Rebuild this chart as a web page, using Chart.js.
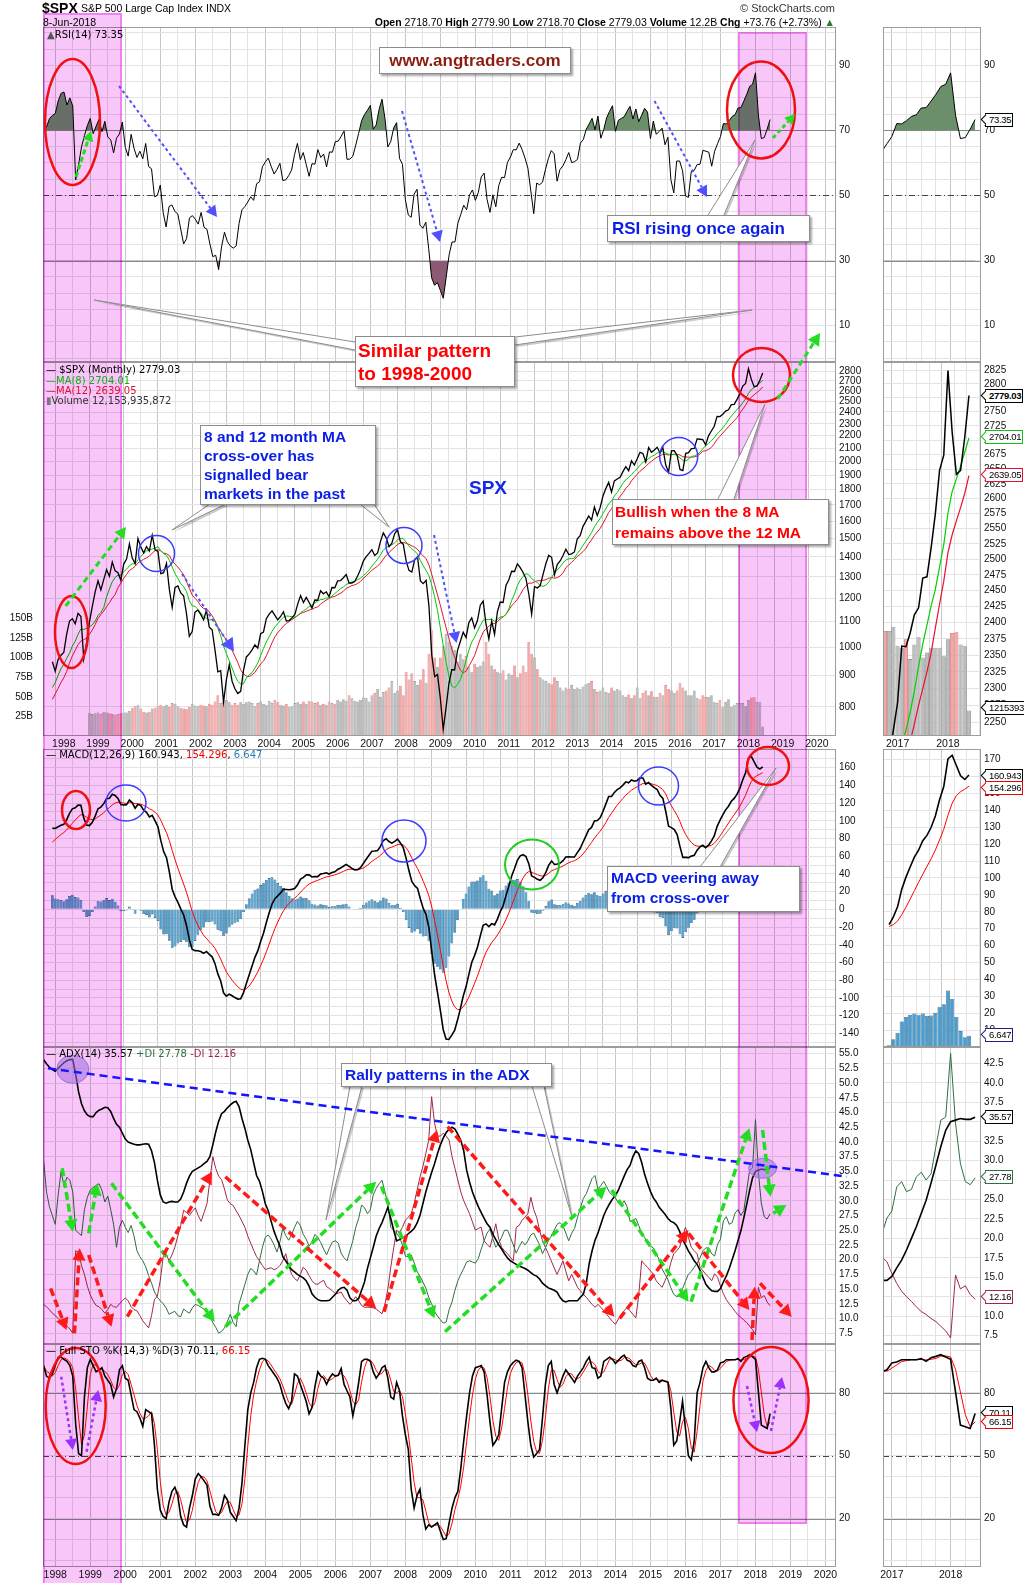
<!DOCTYPE html>
<html lang="en">
<head>
<meta charset="UTF-8">
<title>$SPX monthly with RSI, MACD, ADX and Full STO</title>
<script src="https://cdn.jsdelivr.net/npm/chart.js"></script>
<style>
  html, body { margin: 0; padding: 0; background: #fff; }
  #page { position: relative; width: 1024px; height: 1583px; overflow: hidden; font-family: "Liberation Sans", Arial, sans-serif; }
  #page canvas { position: absolute; z-index: 1; }
  #page #overlay { z-index: 3; pointer-events: none; }
  .pink { position: absolute; z-index: 2; box-sizing: border-box; background: #f8c6f8; border: 2px solid #ee82ee; mix-blend-mode: multiply; }
  .txt { position: absolute; z-index: 4; white-space: nowrap; color: #000; line-height: 1; }
  .lg { font-family: "DejaVu Sans", Verdana, sans-serif; font-size: 10px; }
  .note { position: absolute; z-index: 5; background: #fff; border: 1px solid #8c8c8c; box-shadow: 2px 2px 2px rgba(0,0,0,0.35);
          font-weight: bold; box-sizing: border-box; white-space: nowrap; font-family: "Liberation Sans", Arial, sans-serif; }
  .tag { position: absolute; z-index: 5; left: 985px; height: 12px; line-height: 12px; font-size: 9.5px; padding: 0 1px 0 3px;
         background: #fff; border: 1px solid #000; letter-spacing: -0.3px; }
  .tag::before { content: ''; position: absolute; left: -4px; top: 2px; width: 6px; height: 6px; transform: rotate(45deg);
                 border-left: 1px solid; border-bottom: 1px solid; border-color: inherit; background: #fff; z-index: -1; }
</style>
</head>
<body>
<div id="page">
  <!-- header -->
  <div class="txt" style="left:42px;top:1px;font-size:14px;font-weight:bold">$SPX</div>
  <div class="txt" style="left:81px;top:3px;font-size:10.5px">S&amp;P 500 Large Cap Index</div>
  <div class="txt" style="left:206px;top:3px;font-size:10.5px">INDX</div>
  <div class="txt" style="left:43px;top:17px;font-size:10.5px">8-Jun-2018</div>
  <div class="txt" style="right:189px;top:3px;font-size:11px;color:#333">&#169; StockCharts.com</div>
  <div class="txt" style="right:189px;top:17px;font-size:10.5px"><b>Open</b> 2718.70 <b>High</b> 2779.90 <b>Low</b> 2718.70 <b>Close</b> 2779.03 <b>Volume</b> 12.2B <b>Chg</b> +73.76 (+2.73%) <span style="color:#2a7a2a">&#9650;</span></div>

  <!-- panel legends -->
  <div class="txt lg" style="left:47px;top:30px"><span style="color:#555">&#9650;</span>RSI(14) 73.35</div>
  <div class="txt lg" style="left:46px;top:365px">&#8212; $SPX (Monthly) 2779.03</div>
  <div class="txt lg" style="left:46px;top:376px;color:#10b010">&#8212;MA(8) 2704.01</div>
  <div class="txt lg" style="left:46px;top:386px;color:#e0102e">&#8212;MA(12) 2639.05</div>
  <div class="txt lg" style="left:46px;top:396px;color:#333"><span style="color:#777">&#9646;</span>Volume 12,153,935,872</div>
  <div class="txt lg" style="left:46px;top:750px">&#8212; MACD(12,26,9) 160.943, <span style="color:#e00">154.296</span>, <span style="color:#2a7fb8">6.647</span></div>
  <div class="txt lg" style="left:46px;top:1049px">&#8212; ADX(14) 35.57 <span style="color:#2f6f3f">+DI 27.78</span> <span style="color:#a02848">-DI 12.16</span></div>
  <div class="txt lg" style="left:46px;top:1346px">&#8212; Full STO %K(14,3) %D(3) 70.11, <span style="color:#e00">66.15</span></div>

  <!-- value tags of the zoomed panels -->
  <div class="tag" style="top:113px">73.35</div>
  <div class="tag" style="top:389px;font-weight:bold">2779.03</div>
  <div class="tag" style="top:430px;border-color:#10c010">2704.01</div>
  <div class="tag" style="top:468px;border-color:#e0102e">2639.05</div>
  <div class="tag" style="top:701px">1215393</div>
  <div class="tag" style="top:769px">160.943</div>
  <div class="tag" style="top:781px;border-color:#e00">154.296</div>
  <div class="tag" style="top:1028px;border-color:#202080">6.647</div>
  <div class="tag" style="top:1110px">35.57</div>
  <div class="tag" style="top:1170px;border-color:#2f6f3f">27.78</div>
  <div class="tag" style="top:1290px;border-color:#a02848">12.16</div>
  <div class="tag" style="top:1406px">70.11</div>
  <div class="tag" style="top:1415px;border-color:#e00">66.15</div>

  <!-- highlighted periods -->
  <div class="pink" style="left:43px;top:13px;width:79px;height:1572px"></div>
  <div class="pink" style="left:738px;top:32px;width:69px;height:1492px"></div>

  <!-- notes -->
  <div class="note" style="left:379px;top:47px;width:192px;height:27px;line-height:25px;text-align:center;font-size:17px;color:#8b1e10">www.angtraders.com</div>
  <div class="note" style="left:607px;top:215px;width:203px;height:27px;line-height:25px;padding-left:4px;font-size:17px;color:#0a1ee6">RSI rising once again</div>
  <div class="note" style="left:355px;top:336px;width:160px;height:51px;padding:2px 0 0 2px;line-height:23px;font-size:19px;color:#f00">Similar pattern<br>to 1998-2000</div>
  <div class="note" style="left:200px;top:425px;width:176px;height:80px;padding:1px 0 0 3px;line-height:19px;font-size:15.5px;color:#0a1ee6">8 and 12 month MA<br>cross-over has<br>signalled bear<br>markets in the past</div>
  <div class="txt" style="left:469px;top:478px;font-size:19px;font-weight:bold;color:#1428e6">SPX</div>
  <div class="note" style="left:612px;top:499px;width:217px;height:46px;padding:1px 0 0 2px;line-height:21px;font-size:15.5px;color:#f00">Bullish when the 8 MA<br>remains above the 12 MA</div>
  <div class="note" style="left:607px;top:866px;width:193px;height:46px;padding:1px 0 0 3px;line-height:20px;font-size:15.5px;color:#0a1ee6">MACD veering away<br>from cross-over</div>
  <div class="note" style="left:341px;top:1063px;width:211px;height:24px;line-height:22px;padding-left:3px;font-size:15.5px;color:#0a1ee6">Rally patterns in the ADX</div>

  <canvas id="overlay" width="1024" height="1583" style="left:0;top:0;width:1024px;height:1583px"></canvas>
</div>

<script>
// ---------------- data (monthly, first value = Sep 1997, last = Jun 2018) ----------------
const closeSPX = [
  947, 914, 955, 970,
  980, 1049, 1102, 1112, 1091, 1134, 1121, 957, 1017, 1099, 1164, 1229,
  1280, 1238, 1286, 1335, 1302, 1373, 1329, 1320, 1283, 1363, 1389, 1469,
  1394, 1366, 1499, 1452, 1421, 1455, 1431, 1518, 1437, 1429, 1315, 1320,
  1366, 1240, 1160, 1249, 1256, 1224, 1211, 1134, 1041, 1060, 1139, 1148,
  1130, 1107, 1147, 1077, 1067, 990, 912, 916, 815, 886, 936, 880,
  856, 841, 848, 917, 964, 975, 990, 1008, 996, 1051, 1058, 1112,
  1131, 1145, 1126, 1107, 1121, 1141, 1102, 1104, 1115, 1130, 1174, 1212,
  1181, 1204, 1181, 1157, 1192, 1191, 1234, 1220, 1229, 1207, 1249, 1248,
  1280, 1281, 1295, 1311, 1270, 1270, 1277, 1304, 1336, 1378, 1401, 1418,
  1438, 1407, 1421, 1482, 1531, 1503, 1455, 1474, 1527, 1549, 1481, 1468,
  1379, 1331, 1323, 1386, 1400, 1280, 1267, 1283, 1166, 969, 896, 903,
  826, 735, 798, 873, 919, 919, 987, 1021, 1057, 1036, 1096, 1115,
  1074, 1104, 1169, 1187, 1089, 1031, 1102, 1049, 1141, 1183, 1181, 1258,
  1286, 1327, 1326, 1364, 1345, 1321, 1292, 1219, 1131, 1253, 1247, 1258,
  1312, 1366, 1408, 1398, 1310, 1362, 1379, 1407, 1441, 1412, 1416, 1426,
  1498, 1515, 1569, 1598, 1631, 1606, 1686, 1633, 1682, 1757, 1806, 1848,
  1783, 1859, 1872, 1884, 1924, 1960, 1931, 2003, 1972, 2018, 2068, 2059,
  1995, 2105, 2068, 2086, 2107, 2063, 2104, 1972, 1920, 2079, 2080, 2044,
  1940, 1932, 2060, 2065, 2097, 2099, 2174, 2171, 2168, 2126, 2199, 2239,
  2279, 2364, 2363, 2384, 2412, 2423, 2470, 2472, 2519, 2575, 2648, 2674,
  2824, 2714, 2641, 2648, 2705, 2779.03
];
const ma8 = [
  860, 876, 900, 922,
  938, 959, 977, 1004, 1022, 1049, 1070, 1068, 1073, 1079, 1087, 1102,
  1125, 1138, 1159, 1206, 1242, 1276, 1297, 1308, 1308, 1324, 1337, 1354,
  1365, 1364, 1385, 1402, 1419, 1431, 1436, 1442, 1447, 1455, 1432, 1416,
  1409, 1382, 1348, 1315, 1292, 1266, 1253, 1230, 1189, 1167, 1164, 1152,
  1136, 1121, 1113, 1106, 1109, 1101, 1072, 1043, 1004, 976, 950, 925,
  899, 880, 872, 872, 891, 902, 909, 925, 942, 969, 995, 1019,
  1040, 1061, 1078, 1091, 1106, 1118, 1123, 1122, 1120, 1118, 1124, 1137,
  1145, 1153, 1163, 1169, 1179, 1187, 1194, 1195, 1201, 1201, 1210, 1221,
  1232, 1244, 1251, 1263, 1268, 1276, 1279, 1286, 1293, 1305, 1318, 1332,
  1353, 1370, 1388, 1410, 1435, 1450, 1457, 1464, 1475, 1493, 1500, 1499,
  1480, 1458, 1442, 1431, 1415, 1381, 1354, 1331, 1305, 1259, 1206, 1146,
  1074, 1006, 947, 896, 865, 859, 870, 885, 914, 951, 989, 1019,
  1038, 1061, 1084, 1105, 1109, 1108, 1109, 1101, 1109, 1119, 1120, 1129,
  1154, 1191, 1219, 1258, 1284, 1301, 1315, 1310, 1291, 1281, 1272, 1258,
  1254, 1260, 1274, 1297, 1319, 1333, 1349, 1368, 1384, 1390, 1391, 1394,
  1418, 1437, 1461, 1484, 1508, 1532, 1566, 1592, 1615, 1645, 1675, 1706,
  1725, 1757, 1780, 1811, 1842, 1867, 1883, 1902, 1926, 1946, 1970, 1992,
  2001, 2019, 2036, 2046, 2063, 2069, 2073, 2063, 2053, 2050, 2051, 2046,
  2025, 2009, 2003, 2015, 2037, 2040, 2051, 2067, 2096, 2120, 2137, 2159,
  2182, 2215, 2239, 2265, 2296, 2333, 2367, 2396, 2426, 2452, 2488, 2524,
  2576, 2612, 2633, 2655, 2679, 2704.01
];
const ma12 = [
  823, 840, 857, 876,
  892, 913, 942, 968, 988, 1009, 1023, 1028, 1034, 1049, 1066, 1088,
  1113, 1129, 1144, 1163, 1180, 1200, 1217, 1248, 1270, 1292, 1311, 1331,
  1340, 1351, 1369, 1378, 1388, 1395, 1404, 1420, 1433, 1438, 1432, 1420,
  1417, 1407, 1379, 1362, 1348, 1329, 1310, 1278, 1245, 1215, 1200, 1186,
  1166, 1155, 1154, 1140, 1124, 1104, 1079, 1061, 1042, 1028, 1011, 989,
  966, 944, 919, 905, 897, 896, 902, 910, 925, 939, 949, 968,
  991, 1016, 1039, 1055, 1068, 1082, 1092, 1100, 1109, 1116, 1126, 1134,
  1138, 1143, 1148, 1152, 1158, 1162, 1173, 1183, 1192, 1199, 1205, 1208,
  1216, 1222, 1232, 1245, 1251, 1258, 1261, 1268, 1277, 1292, 1304, 1318,
  1332, 1342, 1353, 1367, 1389, 1408, 1423, 1437, 1453, 1467, 1474, 1478,
  1473, 1467, 1459, 1451, 1440, 1421, 1405, 1390, 1359, 1311, 1262, 1215,
  1169, 1120, 1076, 1033, 993, 963, 940, 918, 909, 914, 931, 949,
  969, 1000, 1031, 1057, 1071, 1081, 1090, 1092, 1099, 1112, 1119, 1131,
  1148, 1167, 1180, 1195, 1216, 1240, 1256, 1270, 1269, 1275, 1281, 1281,
  1283, 1286, 1293, 1296, 1293, 1296, 1304, 1319, 1345, 1358, 1372, 1386,
  1402, 1414, 1428, 1444, 1471, 1492, 1517, 1536, 1556, 1585, 1617, 1652,
  1676, 1705, 1730, 1754, 1778, 1808, 1828, 1859, 1883, 1905, 1927, 1944,
  1962, 1983, 1999, 2016, 2031, 2040, 2054, 2051, 2047, 2052, 2053, 2052,
  2047, 2033, 2032, 2031, 2030, 2033, 2039, 2055, 2076, 2080, 2090, 2106,
  2134, 2170, 2195, 2222, 2248, 2275, 2300, 2325, 2354, 2392, 2429, 2465,
  2511, 2540, 2563, 2585, 2609, 2639.05
];
// monthly volume in billions of shares (no volume before Oct 1998)
const volumeB = [
  null, null, null, null,
  null, null, null, null, null, null, null, null, null, 29, 28, 29,
  30, 28, 31, 30, 29, 28, 27, 28, 29, 30, 30, 32,
  36, 38, 40, 35, 31, 30, 31, 35, 36, 38, 40, 38,
  40, 37, 42, 41, 38, 36, 35, 34, 37, 41, 39, 38,
  40, 39, 38, 41, 40, 44, 52, 42, 45, 46, 43, 40,
  42, 40, 43, 41, 43, 44, 42, 38, 42, 44, 41, 40,
  45, 42, 46, 43, 40, 39, 41, 37, 38, 42, 43, 41,
  44, 41, 45, 44, 42, 43, 40, 41, 40, 44, 42, 41,
  46, 44, 47, 45, 52, 48, 45, 44, 46, 49, 48, 44,
  52, 55, 60, 50, 56, 58, 62, 70, 55, 58, 64, 52,
  82, 72, 80, 70, 65, 72, 85, 68, 105, 135, 100, 88,
  100, 115, 130, 120, 115, 110, 95, 105, 98, 102, 88, 82,
  92, 88, 90, 95, 120, 105, 90, 85, 82, 80, 84, 72,
  80, 78, 90, 75, 80, 90, 82, 120, 105, 100, 85, 75,
  72, 70, 68, 66, 75, 70, 62, 58, 62, 60, 65, 60,
  62, 60, 63, 66, 68, 70, 60, 56, 58, 62, 56, 55,
  62, 58, 60, 58, 52, 50, 53, 48, 52, 62, 48, 55,
  58, 52, 57, 50, 50, 55, 52, 65, 60, 58, 55, 58,
  68, 62, 58, 52, 52, 58, 48, 47, 52, 50, 50, 52,
  43, 42, 46, 36.6, 43.6, 47, 37.4, 39.7, 42, 42, 42, 38,
  46, 49, 49.4, 43.6, 43, 12.15
];
const rsi14 = [
  70.5, 71, 73.6, 74.6,
  75.2, 79, 81.4, 81.8, 77.8, 80, 77.5, 54.8, 59.5, 64.9, 68.4, 71.5,
  73.7, 69, 71.3, 73.4, 69.6, 72.8, 68, 67.1, 63.1, 67.6, 68.9, 72.6,
  64.8, 62.1, 68.8, 64.5, 61.7, 63.6, 61.3, 66, 58.9, 58.2, 49.6, 50,
  53.2, 44.7, 40.3, 46.6, 47.1, 45.1, 44.3, 39.7, 35.1, 36.7, 43.1, 43.8,
  42.7, 41.2, 44.8, 40.2, 39.6, 35.1, 31.2, 31.6, 27.2, 34.2, 38.7, 35.8,
  34.5, 33.8, 34.5, 41.4, 45.6, 46.6, 48, 49.6, 48.5, 53.6, 54.2, 58.8,
  60.3, 61.5, 59, 56.6, 58, 59.9, 54.6, 54.8, 56.1, 57.8, 62.5, 66,
  61, 63.2, 59.6, 55.9, 59.8, 59.6, 64.1, 61.7, 62.7, 58.8, 63.4, 63.3,
  66.6, 66.7, 68.2, 69.8, 61.1, 61.2, 62.1, 65.5, 69.1, 73, 74.9, 76.2,
  77.7, 70.4, 71.7, 76.5, 79.6, 73.7, 64.9, 66.6, 70.8, 72.4, 61.4, 59.6,
  48.7, 44, 43.3, 50.4, 51.9, 40.9, 39.9, 41.8, 33.6, 24.7, 22.4, 23.2,
  20.8, 18.4, 24.9, 31.8, 35.7, 35.7, 41.5, 44.2, 47, 45.6, 50.2, 51.7,
  48.5, 50.9, 55.7, 56.9, 48.8, 44.8, 50.2, 46.5, 53, 55.6, 55.5, 60.2,
  61.8, 64.1, 64, 66.1, 64.1, 61.5, 58.4, 51.4, 44.4, 53.8, 53.3, 54.1,
  57.9, 61.3, 63.8, 62.8, 54.4, 58, 59.1, 61, 63.2, 60.1, 60.4, 61.1,
  66.1, 67.2, 70.4, 72, 73.7, 70.2, 74.4, 67.6, 70.3, 73.9, 75.9, 77.6,
  69.7, 73.1, 73.7, 74.2, 75.9, 77.4, 73.5, 76.6, 72.7, 74.7, 76.8, 75.6,
  67.5, 72.9, 68.8, 69.7, 70.7, 65.6, 67.9, 54.9, 50.8, 60.6, 60.6, 57.6,
  49.9, 49.4, 57.4, 57.7, 59.5, 59.6, 63.9, 63.6, 63.3, 59, 63.6, 65.9,
  68.1, 72.1, 72, 73, 74.3, 74.8, 76.9, 77, 79, 81.1, 83.5, 84.2,
  87.7, 74.7, 67.5, 67.8, 70.4, 73.35
];
const macdLine = [
  91.7, 91.3, 93.2, 94.9,
  95.9, 101.1, 108.3, 113.5, 114.6, 117.6, 117.5, 103, 95.2, 94.6, 98.3, 105.2,
  113.5, 115.4, 119.3, 125, 125.4, 129.9, 128.5, 125.2, 118.2, 117.8, 118.2, 123.5,
  120.3, 114.2, 118.7, 117.1, 112, 109.5, 104.4, 106.2, 99.9, 93.2, 77.8, 65.2,
  58.3, 42.2, 22.7, 14.2, 7.9, 0.5, -6.4, -17.9, -34.2, -45, -46.6, -46.7,
  -47.7, -49.7, -47.5, -50.8, -53.6, -61.3, -72.9, -80.9, -94.2, -98, -95.8, -97.5,
  -99.6, -101.3, -101, -94, -83.7, -73.8, -64, -54.2, -46.9, -36.2, -26.9, -14.9,
  -3.9, 5.9, 12, 15.2, 18.6, 22.6, 22.4, 22.1, 22.5, 23.8, 28.1, 34.1,
  36, 38.9, 38.9, 36.5, 37, 36.9, 39.8, 40.5, 41.3, 39.8, 41.5, 42.3,
  45, 46.7, 48.6, 50.7, 48.5, 46.2, 44.5, 44.8, 47.1, 51.7, 56.5, 61,
  65.5, 65.8, 66.4, 71, 77.7, 79.7, 76.6, 74.8, 76.8, 79.3, 74.9, 69.6,
  57.5, 43.5, 31.4, 26.7, 23.7, 11.6, 1, -6.1, -20.9, -47.9, -74.4, -93.8,
  -114, -135.8, -146.3, -146.9, -142, -136.6, -125.3, -112.4, -98.1, -87.5, -73.4, -60,
  -52.1, -42.9, -30, -18.1, -16.4, -19.5, -16.1, -17.5, -11, -2.5, 4, 15.3,
  26.2, 37.7, 46.2, 55.4, 60.4, 61.7, 59.7, 51.6, 37.7, 36.1, 33.9, 32.8,
  35.8, 42.1, 49.9, 54.6, 50.7, 51.2, 52.3, 54.9, 59, 59.2, 59, 59,
  64, 68.6, 75.7, 82.7, 89.9, 92.5, 99.8, 100.2, 103.3, 110.5, 118.8, 127.3,
  127.4, 132, 135.2, 137.1, 140.2, 143.9, 142.8, 146.1, 144.6, 145.4, 148.4, 148.3,
  141.4, 143.1, 139.9, 137.3, 135.3, 128.7, 125.3, 110.7, 93.9, 92.3, 90.1, 84.5,
  70.8, 58.7, 58.7, 58.4, 60.1, 60.9, 66.8, 70.5, 72.3, 69.5, 72.4, 77,
  82.9, 93.4, 100.5, 106.5, 112.3, 116.4, 122, 125.2, 130, 136.7, 146.3, 154.1,
  170.5, 172.6, 166.5, 160.4, 158.3, 160.943
];
const macdSignal = [
  75.9, 79, 81.8, 84.4,
  86.7, 89.6, 93.3, 97.3, 100.8, 104.2, 106.9, 106.1, 103.9, 102, 101.3, 102.1,
  104.4, 106.6, 109.1, 112.3, 114.9, 117.9, 120, 121, 120.4, 119.9, 119.6, 120.4,
  120.4, 119.2, 119.1, 118.7, 117.4, 115.8, 113.5, 112, 109.6, 106.3, 100.6, 93.5,
  86.5, 77.6, 66.6, 56.1, 46.5, 37.3, 28.6, 19.3, 8.6, -2.1, -11, -18.1,
  -24, -29.2, -32.8, -36.4, -39.8, -44.1, -49.9, -56.1, -63.7, -70.6, -75.6, -80,
  -83.9, -87.4, -90.1, -90.9, -89.5, -86.4, -81.9, -76.4, -70.5, -63.6, -56.3, -48,
  -39.2, -30.2, -21.8, -14.4, -7.8, -1.7, 3.1, 6.9, 10, 12.8, 15.9, 19.5,
  22.8, 26, 28.6, 30.2, 31.6, 32.7, 34.1, 35.4, 36.6, 37.2, 38.1, 38.9,
  40.1, 41.4, 42.8, 44.4, 45.2, 45.4, 45.2, 45.1, 45.5, 46.7, 48.7, 51.2,
  54.1, 56.4, 58.4, 60.9, 64.3, 67.4, 69.2, 70.3, 71.6, 73.1, 73.5, 72.7,
  69.7, 64.5, 57.9, 51.7, 46.1, 39.2, 31.6, 24.1, 15.1, 2.5, -12.9, -29.1,
  -46.1, -64.1, -80.5, -93.8, -103.4, -110.1, -113.1, -113, -110, -105.5, -99.1, -91.3,
  -83.5, -75.4, -66.3, -56.7, -48.6, -42.8, -37.5, -33.5, -29, -23.7, -18.2, -11.5,
  -4, 4.3, 12.7, 21.2, 29, 35.5, 40.3, 42.6, 41.6, 40.5, 39.2, 37.9,
  37.5, 38.4, 40.7, 43.5, 44.9, 46.2, 47.4, 48.9, 50.9, 52.6, 53.9, 54.9,
  56.7, 59.1, 62.4, 66.5, 71.2, 75.5, 80.4, 84.4, 88.2, 92.7, 97.9, 103.8,
  108.5, 113.2, 117.6, 121.5, 125.2, 128.9, 131.7, 134.6, 136.6, 138.4, 140.4, 142,
  141.9, 142.1, 141.7, 140.8, 139.7, 137.5, 135.1, 130.2, 122.9, 116.8, 111.5, 106.1,
  99, 91, 84.5, 79.3, 75.5, 72.6, 71.4, 71.2, 71.4, 71, 71.3, 72.4,
  74.5, 78.3, 82.7, 87.5, 92.5, 97.3, 102.2, 106.8, 111.4, 116.5, 122.5, 128.8,
  137.1, 144.2, 148.7, 151, 152.5, 154.296
];
const macdHist = [
  15.8, 12.3, 11.4, 10.5,
  9.2, 11.5, 15, 16.2, 13.8, 13.4, 10.6, -3.1, -8.7, -7.4, -3, 3.1,
  9.1, 8.8, 10.2, 12.7, 10.5, 12, 8.5, 4.2, -2.2, -2.1, -1.4, 3.1,
  -0.1, -5, -0.4, -1.6, -5.4, -6.3, -9.1, -5.8, -9.7, -13.1, -22.8, -28.3,
  -28.2, -35.4, -43.9, -41.9, -38.6, -36.8, -35, -37.2, -42.8, -42.9, -35.6, -28.6,
  -23.7, -20.5, -14.7, -14.4, -13.8, -17.2, -23, -24.8, -30.5, -27.4, -20.2, -17.5,
  -15.7, -13.9, -10.9, -3.1, 5.8, 12.6, 17.9, 22.2, 23.6, 27.4, 29.4, 33.1,
  35.3, 36.1, 33.8, 29.6, 26.4, 24.3, 19.3, 15.2, 12.5, 11, 12.2, 14.6,
  13.2, 12.9, 10.3, 6.3, 5.4, 4.2, 5.7, 5.1, 4.7, 2.6, 3.4, 3.4,
  4.9, 5.3, 5.8, 6.3, 3.3, 0.8, -0.7, -0.3, 1.6, 5, 7.8, 9.8,
  11.4, 9.4, 8, 10.1, 13.4, 12.3, 7.4, 4.5, 5.2, 6.2, 1.4, -3.1,
  -12.2, -21, -26.5, -25, -22.4, -27.6, -30.6, -30.2, -36, -50.4, -61.5, -64.7,
  -67.9, -71.7, -65.8, -53.1, -38.6, -26.5, -12.2, 0.6, 11.9, 18, 25.7, 31.3,
  31.4, 32.5, 36.3, 38.6, 32.2, 23.3, 21.4, 16, 18, 21.2, 22.2, 26.8,
  30.2, 33.4, 33.5, 34.2, 31.4, 26.2, 19.4, 9, -3.9, -4.4, -5.3, -5.1,
  -1.7, 3.7, 9.2, 11.1, 5.8, 5, 4.9, 6, 8.1, 6.6, 5.1, 4.1,
  7.3, 9.5, 13.3, 16.2, 18.7, 17, 19.4, 15.8, 15.1, 17.8, 20.9, 23.5,
  18.9, 18.8, 17.6, 15.6, 15, 15, 11.1, 11.5, 8, 7, 8, 6.3,
  -0.5, 1, -1.8, -3.5, -4.4, -8.8, -9.8, -19.5, -29, -24.5, -21.4, -21.6,
  -28.2, -32.3, -25.8, -20.9, -15.4, -11.7, -4.6, -0.7, 0.9, -1.5, 1.1, 4.6,
  8.4, 15.1, 17.8, 19, 19.8, 19.1, 19.8, 18.4, 18.6, 20.2, 23.8, 25.3,
  33.4, 28.4, 17.8, 9.4, 5.8, 6.647
];
const adx14 = [
  54, 53.3, 52.7, 52.3,
  52, 52.5, 53, 53.5, 53.8, 54, 54, 51.5, 48.5, 46.5, 45.3, 44.6,
  44.3, 44.3, 45, 45.4, 45.6, 45.9, 45.8, 45.2, 44, 43, 42.5, 41.5,
  40.5, 40, 39.8, 39.6, 39.5, 39.5, 39.6, 39.7, 39.6, 38.5, 36.5, 33.5,
  31, 29.8, 29.6, 29.8, 29.9, 29.8, 29.8, 30.3, 31.5, 33, 34.2, 35,
  35.3, 35.6, 35.9, 36.3, 36.7, 37.5, 39.5, 41.7, 43.5, 44.8, 45.2, 45.8,
  46.3, 46.7, 46.9, 46, 44, 42.3, 40.3, 38.7, 36.5, 34.3, 33.3, 31.6,
  29.5, 28.3, 26.5, 24.8, 23.5, 22.3, 20.5, 19.8, 19, 18.3, 17.9, 17.5,
  17.2, 16.9, 16.4, 15.5, 14.2, 13.6, 13.2, 13, 13, 13, 13.1, 13.6,
  14.1, 14.8, 15.2, 15.3, 14.8, 13.5, 13, 13, 13.4, 14.8, 16.2, 18.5,
  20.3, 22.1, 24, 25.3, 26.3, 27.6, 28.9, 27, 25, 23.2, 23.4, 23.7,
  23.9, 24.4, 24.8, 25.3, 26.2, 27.5, 29.5, 31.5, 33.2, 34.8, 36.3, 38,
  39.5, 40.7, 41.6, 42.2, 42.5, 42.2, 41.3, 40.3, 38.5, 35.2, 33.2, 31.5,
  30.2, 29, 28, 27, 26.1, 25.5, 24.3, 23.4, 22.5, 21.8, 21, 20.3,
  19.8, 19.5, 19.2, 18.9, 18.7, 18.5, 18.2, 17.8, 17.4, 17.2, 16.7, 16,
  15.6, 15.2, 15, 14.8, 14.5, 13.6, 13, 12.8, 13, 13, 13, 13,
  13.6, 14.1, 16, 19.3, 21.5, 23.3, 24.5, 26, 27.5, 28.6, 29.5, 30.3,
  30.9, 31.8, 33, 34.2, 35.3, 36, 37.5, 38.5, 38, 36.5, 34.5, 33,
  31.6, 30.5, 29.8, 28.9, 28.3, 27.7, 27, 26.5, 26.3, 25.8, 24.8, 23.4,
  22.5, 21.5, 20.7, 19.8, 19.2, 18.2, 17, 15.8, 15.2, 14.7, 14.6, 14.6,
  15.1, 16.2, 17.2, 18.5, 20, 21.5, 23.2, 24.9, 27.1, 29.4, 31.8, 33.9,
  35, 35.2, 35.4, 35.3, 35.3, 35.57
];
const plusDI = [
  36.9, 31.5, 29, 27.5,
  26, 31, 35, 32.5, 34, 33.5, 31.5, 25, 24.5, 24.1, 28.5, 30.6,
  31.8, 32.3, 32.6, 32.9, 31.8, 29.8, 30.8, 28.5, 26, 22.1, 25.5, 26.7,
  25.5, 24.6, 25.8, 24, 21.5, 20.5, 19.8, 18.8, 17.3, 16, 14.5, 13.6,
  13, 12.5, 11.8, 10.7, 11, 11.2, 10.5, 10.3, 11.6, 11.2, 10.9, 11.8,
  12.4, 12.2, 11.9, 11.6, 11.3, 10.5, 9.3, 8.5, 7.5, 7.8, 8.4, 9.5,
  10.7, 9.3, 8.6, 12.5, 14.1, 15.8, 17.5, 18.5, 18.1, 17.4, 19.8, 22.1,
  23.8, 24.2, 23.5, 22.5, 21.3, 23, 25.3, 24.1, 23.3, 24.2, 25.5, 26.5,
  25.8, 24.3, 23.5, 22.3, 23, 24.3, 23.8, 22.9, 21.8, 20.8, 22, 23,
  23.2, 22.8, 21.1, 20.3, 19.8, 21.5, 23.2, 25.5, 27, 29.3, 28.8, 27.8,
  28.5, 31, 32.1, 32.9, 33.5, 31.5, 29.5, 25.5, 25, 24.5, 23.8, 22.5,
  20.6, 20.5, 20.8, 19.5, 18, 17.2, 16.2, 15.2, 13.6, 12.5, 11.2, 10.4,
  9.8, 9.2, 9.4, 11.5, 12.8, 14.8, 16.4, 17.5, 18.5, 19.6, 19.8, 19.6,
  19.4, 20.2, 21.8, 23.2, 24.5, 25.2, 23.5, 22.1, 22.8, 23.8, 25, 25,
  23.8, 22.5, 21.1, 22.2, 23.1, 22.5, 23.2, 24.2, 24.5, 23.5, 22.5, 21,
  22, 23.2, 24, 25, 26, 26.3, 25.8, 24.5, 23.2, 24.5, 25.3, 27.2,
  28.8, 30.4, 31.2, 32.5, 33.8, 34.3, 32, 32.6, 33.3, 32.4, 31.4, 31,
  30.5, 29.6, 29.2, 30, 29, 26.5, 26.7, 27, 25.8, 24.4, 23.8, 22.8,
  22.3, 22, 21, 20, 18.4, 17.5, 16.6, 15.2, 14.1, 13.7, 13.9, 15.1,
  16.3, 17.5, 18, 18.7, 19.4, 20.3, 21.5, 22, 22, 21, 20.6, 22.6,
  23.5, 26.6, 27.3, 26, 26.3, 27.9, 28.5, 27.5, 28.3, 31.8, 35.2, 35.6,
  43.8, 34.8, 29.6, 27.3, 26.9, 27.78
];
const minusDI = [
  12.4, 12, 11.5, 10.9,
  10.5, 10, 9.5, 9, 8.7, 8.2, 7.5, 21.5, 21.2, 19, 17.5, 15.5,
  14, 13, 12.2, 12, 11.5, 10.9, 11.5, 12.4, 12, 11.9, 12.5, 13,
  13.5, 13, 12, 11.5, 11.3, 10.5, 9.6, 9, 8.4, 10.5, 13.2, 13.8,
  16.5, 20.5, 21, 19.8, 20.8, 22.1, 24, 25.8, 28.4, 28, 27.5, 28.2,
  28.8, 27.5, 26.5, 28, 29.5, 33.5, 37.5, 35.5, 34.2, 33.6, 32, 30.1,
  29.5, 29.2, 28.3, 27.5, 26.5, 25.5, 24, 22.8, 21.6, 20.5, 19.8, 19,
  18.3, 18.5, 18.6, 18.3, 18.5, 19, 19.8, 21, 19, 17.5, 16.8, 16.4,
  17.5, 18.7, 18.2, 17.3, 16.4, 15.9, 15.8, 16.2, 16.5, 15.4, 15.1, 14.7,
  14.2, 14.3, 14.5, 13.6, 13, 12.4, 13, 13.7, 13, 12.2, 11.9, 11.9,
  11.9, 11.8, 11.6, 11.2, 10.8, 12.4, 15, 18.7, 22, 25, 24.6, 25.5,
  26.7, 27.2, 27.8, 29.5, 31.8, 34, 35.8, 38, 40.3, 47.7, 43.2, 41,
  41, 41.5, 41, 40.3, 37.5, 35.5, 33.5, 31.5, 30, 28.9, 27.8, 26.4,
  25, 25.3, 25.5, 23.2, 22.6, 22.1, 24, 26.1, 23.5, 22.1, 21.5, 21,
  20.4, 19.8, 25.5, 25.8, 26.7, 27.2, 27.8, 30.6, 28.5, 27.2, 25, 23.2,
  22.1, 21, 19.8, 18.6, 17.5, 18.6, 19.8, 18, 16.4, 17.5, 16.4, 15.3,
  14.7, 14.1, 13.6, 13, 12.4, 11.9, 12.4, 11.9, 11.3, 10.7, 10.1, 9.5,
  9, 9.9, 10.7, 11.3, 11.9, 11.3, 10.7, 10.1, 14, 19.8, 19.2, 18.7,
  18.1, 17.5, 16.4, 15.8, 15.3, 16.4, 17.5, 19.5, 21, 21.5, 22.1, 23.8,
  25.5, 23.8, 22.1, 21.5, 21, 18.7, 18.1, 17.5, 17, 16.4, 17.6, 17,
  15.5, 14.2, 13.2, 12.5, 11.9, 11.2, 10.6, 10.2, 9.7, 9.3, 8.7, 8.1,
  7.2, 15.3, 13.5, 13.9, 12.8, 12.16
];
const stoK = [
  93, 88, 87, 89,
  93, 97, 97, 96, 95, 93, 88, 65, 51, 50, 78, 92,
  96, 93, 90, 91, 92, 88, 86, 84, 78, 82, 91, 93,
  87, 86, 79, 72, 71, 68, 64, 72, 71, 70, 55, 34,
  24, 21, 20, 28, 33, 35, 31, 21, 17, 16, 25, 31,
  39, 41.5, 40, 38, 36, 26, 22, 22, 21.6, 25, 31, 29,
  23, 21, 19, 25, 37, 55, 72, 80, 85, 92, 96, 96.5,
  96, 93, 91, 89, 87, 84, 79, 75, 72.5, 76, 89, 88,
  84, 80, 76, 70, 73, 83, 90, 88, 87, 84, 87, 89,
  88, 88.4, 91.6, 84, 81, 78, 69, 76, 85, 95, 96, 96,
  95, 90, 87, 89, 92, 93, 87, 78, 77, 85, 81, 69,
  60, 53, 34, 25, 31, 34, 22, 15, 17, 16, 17, 18,
  14, 10, 10.4, 18, 25, 30, 33, 44, 57, 69, 80, 88,
  92, 92.5, 93, 90, 79, 66, 55, 57, 60, 72.5, 85, 90,
  93, 94.5, 95.6, 95, 92, 79, 66, 55, 49.4, 51, 53, 68,
  84, 93, 95, 84, 80, 84, 88, 91, 89, 87, 85, 88,
  90, 92, 95, 97, 92, 91.6, 87, 88, 95, 96, 97, 96,
  94, 95.5, 97, 98, 95.6, 95, 93, 92.4, 95, 95.6, 92, 87,
  86, 86, 87, 85, 86, 85.5, 85, 72.5, 55, 57, 66, 76,
  63, 50, 48, 57, 80, 85, 92, 95, 92, 90, 90, 91,
  94.3, 94.7, 95.8, 95.8, 95.8, 95.8, 96.3, 95, 96.8, 97.4, 98.2, 97.1,
  96, 80.5, 64.6, 63.8, 63, 70.11
];
const stoD = [
  93, 90.3, 89.3, 88,
  89.7, 93, 95.7, 96.7, 96, 94.7, 92, 82, 68, 55.3, 59.7, 73.3,
  88.7, 93.7, 93, 91.3, 91, 90.3, 88.7, 86, 82.7, 81.3, 83.7, 88.7,
  90.3, 88.7, 84, 79, 74, 70.3, 67.7, 68, 69, 71, 65.3, 53,
  37.7, 26.3, 21.7, 23, 27, 32, 33, 29, 23, 18, 19.3, 24,
  31.7, 37.2, 40.2, 39.8, 38, 33.3, 28, 23.3, 21.9, 22.9, 25.9, 28.3,
  27.7, 24.3, 21, 21.7, 27, 39, 54.7, 69, 79, 85.7, 91, 94.8,
  96.2, 95.2, 93.3, 91, 89, 86.7, 83.3, 79.3, 75.5, 74.5, 79.2, 84.3,
  87, 84, 80, 75.3, 73, 75.3, 82, 87, 88.3, 86.3, 86, 86.7,
  88, 88.5, 89.3, 88, 85.5, 81, 76, 74.3, 76.7, 85.3, 92, 95.7,
  95.7, 93.7, 90.7, 88.7, 89.3, 91.3, 90.7, 86, 80.7, 80, 81, 78.3,
  70, 60.7, 49, 37.3, 30, 30, 29, 23.7, 18, 16, 16.7, 17,
  16.3, 14, 11.5, 12.8, 17.8, 24.3, 29.3, 35.7, 44.7, 56.7, 68.7, 79,
  86.7, 90.8, 92.5, 91.8, 87.3, 78.3, 66.7, 59.3, 57.3, 63.2, 72.5, 82.5,
  89.3, 92.5, 94.4, 95, 94.2, 88.7, 79, 66.7, 56.8, 51.8, 51.1, 57.3,
  68.3, 81.7, 90.7, 90.7, 86.3, 82.7, 84, 87.7, 89.3, 89, 87, 86.7,
  87.7, 90, 92.3, 94.7, 94.7, 93.5, 90.2, 88.9, 90, 93, 96, 96.3,
  95.7, 95.2, 95.5, 96.8, 96.9, 96.2, 94.5, 93.5, 93.5, 94.3, 94.2, 91.5,
  88.3, 86.3, 86.3, 86, 86, 85.5, 85.5, 81, 70.8, 61.5, 59.3, 66.3,
  68.3, 63, 53.7, 51.7, 61.7, 74, 85.7, 90.7, 93, 92.3, 90.7, 90.3,
  91.8, 93.3, 94.9, 95.4, 95.8, 95.8, 96, 95.7, 96, 96.4, 97.5, 97.6,
  97.1, 91.2, 80.4, 69.6, 63.8, 66.15
];

// axis ticks
const rsiTicks = [0, 5, 10, 15, 20, 25, 30, 35, 40, 45, 50, 55, 60, 65, 70, 75, 80, 85, 90, 95, 100];
const rsiLabels = [10, 30, 50, 70, 90];
const priceTicks = [800, 900, 1000, 1100, 1200, 1300, 1400, 1500, 1600, 1700, 1800, 1900, 2000, 2100, 2200, 2300, 2400, 2500, 2600, 2700, 2800];
const sidePriceTicks = [2250, 2275, 2300, 2325, 2350, 2375, 2400, 2425, 2450, 2475, 2500, 2525, 2550, 2575, 2600, 2625, 2650, 2675, 2700, 2725, 2750, 2775, 2800, 2825];
const volTicks = [25, 50, 75, 100, 125, 150];
const macdTicks = [-150, -140, -130, -120, -110, -100, -90, -80, -70, -60, -50, -40, -30, -20, -10, 0, 10, 20, 30, 40, 50, 60, 70, 80, 90, 100, 110, 120, 130, 140, 150, 160, 170, 180];
const sideMacdTicks = [10, 20, 30, 40, 50, 60, 70, 80, 90, 100, 110, 120, 130, 140, 150, 160, 170];
const adxTicks = [7.5, 10, 12.5, 15, 17.5, 20, 22.5, 25, 27.5, 30, 32.5, 35, 37.5, 40, 42.5, 45, 47.5, 50, 52.5, 55];
const sideAdxTicks = [7.5, 10, 12.5, 15, 17.5, 20, 22.5, 25, 27.5, 30, 32.5, 35, 37.5, 40, 42.5];
const stoTicks = [0, 10, 20, 30, 40, 50, 60, 70, 80, 90, 100];
const stoLabels = [20, 50, 80];

// ---------------- chart setup ----------------
const X0 = -4;          // first sample is Sep 1997 (x = 0 is Jan 1998)
const SIDE_FROM = 229;  // zoomed panels start at Oct 2016

Chart.defaults.font.family = '"Liberation Sans", Arial, sans-serif';
Chart.defaults.font.size = 10;
Chart.defaults.color = '#111';
Chart.defaults.animation = false;
Chart.defaults.plugins.legend.display = false;
Chart.defaults.plugins.tooltip.enabled = false;

const pts = (arr, from = 0) => arr.slice(from).map((v, i) => ({ x: i + from + X0, y: v }));
const volPts = (from = 0) => volumeB.map((v, i) => (v == null ? null : { x: i + X0, y: v, down: i > 0 && closeSPX[i] < closeSPX[i - 1] }))
  .slice(from).filter(Boolean);

// panel border + reference lines
Chart.register({
  id: 'deco',
  beforeDatasetsDraw(chart, args, o) {
    const { ctx, chartArea: a } = chart;
    (o.lines || []).forEach(l => {
      const py = Math.round(chart.scales.y.getPixelForValue(l.v)) + 0.5;
      ctx.save();
      ctx.strokeStyle = l.c || '#8a8a8a';
      ctx.lineWidth = 1;
      ctx.setLineDash(l.d || []);
      ctx.beginPath(); ctx.moveTo(a.left, py); ctx.lineTo(a.right, py); ctx.stroke();
      ctx.restore();
    });
  },
  afterDraw(chart) {
    const { ctx, chartArea: a } = chart;
    ctx.save();
    ctx.strokeStyle = '#9c9c9c';
    ctx.lineWidth = 1;
    ctx.strokeRect(Math.round(a.left) + 0.5, Math.round(a.top) + 0.5, Math.round(a.width) - 1, Math.round(a.height) - 1);
    ctx.restore();
  }
});

function monthAxis(min, max, step, labelH) {
  return {
    type: 'linear', position: 'bottom', min, max,
    afterBuildTicks: s => { const t = []; for (let v = Math.ceil(min / step) * step; v <= max; v += step) t.push({ value: v }); s.ticks = t; },
    ticks: { display: labelH > 0, autoSkip: false, maxRotation: 0, minRotation: 0, padding: 2, font: { size: 10.5 },
             callback: v => (v % 12 === 0 ? String(1998 + v / 12) : '') },
    grid: { drawTicks: false, color: c => (c.tick && c.tick.value % 12 === 0 ? '#c6c6c6' : '#e3e3e3') },
    border: { display: false },
    afterFit: s => { s.height = labelH; s.paddingLeft = 0; s.paddingRight = 0; }
  };
}
function valueAxis(type, min, max, ticks, label, width) {
  return {
    type, position: 'right', min, max,
    afterBuildTicks: s => { s.ticks = ticks.map(v => ({ value: v })); },
    ticks: { autoSkip: false, padding: 3, callback: v => label(v) },
    grid: { drawTicks: false, color: '#e3e3e3' },
    border: { display: false },
    afterFit: s => { s.width = width; s.paddingTop = 0; s.paddingBottom = 0; }
  };
}
const line = (data, color, width, extra) =>
  Object.assign({ type: 'line', data, borderColor: color, borderWidth: width, pointRadius: 0, fill: false, tension: 0 }, extra || {});

const page = document.getElementById('page');
function panel(left, top, width, height, config, padLeft) {
  const c = document.createElement('canvas');
  c.width = width; c.height = height;
  c.style.left = left + 'px'; c.style.top = top + 'px';
  c.style.width = width + 'px'; c.style.height = height + 'px';
  page.insertBefore(c, page.firstChild);
  config.options = Object.assign({ responsive: false, maintainAspectRatio: false, animation: false, events: [],
                                   layout: { padding: { left: padLeft || 0, top: 0, right: 0, bottom: 0 } } }, config.options);
  return new Chart(c, config);
}

const XMIN = -4.2, XMAX = 267.6, SXMIN = 226.2, SXMAX = 246.2;
const MAIN_L = 43, MAIN_W = 793, SIDE_L = 883, SIDE_W = 98, SIDE_PAD = 12;
const rsiLabel = v => (rsiLabels.includes(v) ? String(v) : '');
const stoLabel = v => (stoLabels.includes(v) ? String(v) : '');
const refRSI = [{ v: 70 }, { v: 30 }, { v: 50, d: [6, 3, 1, 3], c: '#444' }];
const refSTO = [{ v: 80 }, { v: 20 }, { v: 50, d: [6, 3, 1, 3], c: '#444' }];
const volColor = c => (c.raw && c.raw.down ? '#f2a8a8' : '#bcbcbc');
const volBorder = c => (c.raw && c.raw.down ? '#d46a6a' : '#8e8e8e');

function rsiSets(from) {
  return [
    line(pts(rsi14, from), '#000', 1, { fill: { target: { value: 70 }, above: '#6b8f6b', below: 'rgba(0,0,0,0)' } }),
    line(pts(rsi14, from), 'rgba(0,0,0,0)', 0, { fill: { target: { value: 30 }, above: 'rgba(0,0,0,0)', below: '#8c5a74' } })
  ];
}
function macdSets(from, lw) {
  return [
    line(pts(macdLine, from), '#000', lw, { order: 0 }),
    line(pts(macdSignal, from), '#ff0000', 1, { order: 1 }),
    { type: 'bar', data: pts(macdHist, from), backgroundColor: '#4a9fd0', borderColor: '#1c4d74', borderWidth: 0.6,
      barPercentage: 1, categoryPercentage: 0.98, order: 5 }
  ];
}
function adxSets(from) {
  return [
    line(pts(adx14, from), '#000', 1.6, { order: 0 }),
    line(pts(plusDI, from), '#2f6f3f', 1, { order: 1 }),
    line(pts(minusDI, from), '#a02848', 1, { order: 2 })
  ];
}
function stoSets(from) {
  return [
    line(pts(stoK, from), '#000', 1.6, { order: 0 }),
    line(pts(stoD, from), '#ff0000', 1, { order: 1 })
  ];
}

// ---- main panels ----
panel(MAIN_L, 27, MAIN_W + 40, 335, {
  type: 'line', data: { datasets: rsiSets(0) },
  options: { scales: { x: monthAxis(XMIN, XMAX, 6, 0), y: valueAxis('linear', -1.2, 101.8, rsiTicks, rsiLabel, 40) },
             plugins: { deco: { lines: refRSI } } }
});
panel(8, 362, 35 + MAIN_W + 40, 387, {
  type: 'line',
  data: { datasets: [
    line(pts(closeSPX), '#000', 1.3, { yAxisID: 'y', order: 0 }),
    line(pts(ma8), '#00c800', 1, { yAxisID: 'y', order: 1 }),
    line(pts(ma12), '#e4122e', 1, { yAxisID: 'y', order: 2 }),
    { type: 'bar', data: volPts(), yAxisID: 'vol', backgroundColor: volColor, borderColor: volBorder, borderWidth: 0.6,
      barPercentage: 1, categoryPercentage: 0.98, order: 5 }
  ] },
  options: { scales: {
    x: monthAxis(XMIN, XMAX, 6, 13),
    y: valueAxis('logarithmic', 717.8, 2896, priceTicks, v => String(v), 40),
    vol: { type: 'linear', position: 'left', min: 0, max: 477,
           afterBuildTicks: s => { s.ticks = volTicks.map(v => ({ value: v })); },
           ticks: { autoSkip: false, padding: 2, callback: v => v + 'B' },
           grid: { display: false }, border: { display: false },
           afterFit: s => { s.width = 35; s.paddingTop = 0; s.paddingBottom = 0; } }
  } }
});
panel(MAIN_L, 749, MAIN_W + 40, 298, {
  type: 'line', data: { datasets: macdSets(0, 1.6) },
  options: { scales: { x: monthAxis(XMIN, XMAX, 6, 0),
                       y: valueAxis('linear', -155.4, 181, macdTicks, v => (v % 20 === 0 && v >= -140 && v <= 160 ? String(v) : ''), 40) } }
});
panel(MAIN_L, 1047, MAIN_W + 40, 297, {
  type: 'line', data: { datasets: adxSets(0) },
  options: { scales: { x: monthAxis(XMIN, XMAX, 6, 0), y: valueAxis('linear', 5.66, 56.14, adxTicks, v => v.toFixed(1), 40) } }
});
panel(MAIN_L, 1344, MAIN_W + 40, 239, {
  type: 'line', data: { datasets: stoSets(0) },
  options: { scales: { x: monthAxis(XMIN, XMAX, 6, 16), y: valueAxis('linear', -3.1, 103.3, stoTicks, stoLabel, 40) },
             plugins: { deco: { lines: refSTO } } }
});

// ---- zoomed panels (Nov 2016 - Jun 2018); canvases start 12px left so the "2017" label is not cut ----
const SL = SIDE_L - SIDE_PAD, SWID = SIDE_PAD + SIDE_W + 43;
panel(SL, 27, SWID, 335, {
  type: 'line', data: { datasets: rsiSets(SIDE_FROM) },
  options: { scales: { x: monthAxis(SXMIN, SXMAX, 3, 0), y: valueAxis('linear', -1.2, 101.8, rsiTicks, rsiLabel, 43) },
             plugins: { deco: { lines: refRSI } } }
}, SIDE_PAD);
panel(SL, 362, SWID, 387, {
  type: 'line',
  data: { datasets: [
    line(pts(closeSPX, SIDE_FROM), '#000', 1.5, { yAxisID: 'y', order: 0 }),
    line(pts(ma8, SIDE_FROM), '#00d000', 1.2, { yAxisID: 'y', order: 1 }),
    line(pts(ma12, SIDE_FROM), '#e4122e', 1.2, { yAxisID: 'y', order: 2 }),
    { type: 'bar', data: volPts(SIDE_FROM), yAxisID: 'vol', backgroundColor: volColor, borderColor: volBorder, borderWidth: 0.8,
      barPercentage: 1, categoryPercentage: 0.98, order: 5 }
  ] },
  options: { scales: {
    x: monthAxis(SXMIN, SXMAX, 3, 13),
    y: valueAxis('logarithmic', 2230.6, 2839.7, sidePriceTicks, v => String(v), 43),
    vol: { type: 'linear', display: false, min: 0, max: 178 }
  } }
}, SIDE_PAD);
panel(SL, 749, SWID, 298, {
  type: 'line', data: { datasets: macdSets(SIDE_FROM, 1.6) },
  options: { scales: { x: monthAxis(SXMIN, SXMAX, 3, 0), y: valueAxis('linear', 0, 176.3, sideMacdTicks, v => String(v), 43) } }
}, SIDE_PAD);
panel(SL, 1047, SWID, 297, {
  type: 'line', data: { datasets: adxSets(SIDE_FROM) },
  options: { scales: { x: monthAxis(SXMIN, SXMAX, 3, 0), y: valueAxis('linear', 6.42, 44.6, sideAdxTicks, v => v.toFixed(1), 43) } }
}, SIDE_PAD);
panel(SL, 1344, SWID, 239, {
  type: 'line', data: { datasets: stoSets(SIDE_FROM) },
  options: { scales: { x: monthAxis(SXMIN, SXMAX, 3, 16), y: valueAxis('linear', -3.1, 103.3, stoTicks, stoLabel, 43) },
             plugins: { deco: { lines: refSTO } } }
}, SIDE_PAD);

// ---------------- hand-drawn annotations (page pixels) ----------------
const g = document.getElementById('overlay').getContext('2d');
function ell(cx, cy, rx, ry, col, w, fill) {
  g.save(); g.beginPath(); g.ellipse(cx, cy, rx, ry, 0, 0, Math.PI * 2);
  if (fill) { g.fillStyle = fill; g.fill(); }
  g.strokeStyle = col; g.lineWidth = w; g.stroke(); g.restore();
}
function arr(x1, y1, x2, y2, col, w, dash, head) {
  const a = Math.atan2(y2 - y1, x2 - x1), h = head || 10;
  const bx = x2 - h * Math.cos(a), by = y2 - h * Math.sin(a);
  g.save(); g.strokeStyle = col; g.fillStyle = col; g.lineWidth = w; g.setLineDash(dash);
  g.beginPath(); g.moveTo(x1, y1); g.lineTo(bx, by); g.stroke();
  g.setLineDash([]);
  g.beginPath(); g.moveTo(x2, y2);
  g.lineTo(bx + 0.55 * h * Math.sin(a), by - 0.55 * h * Math.cos(a));
  g.lineTo(bx - 0.55 * h * Math.sin(a), by + 0.55 * h * Math.cos(a));
  g.closePath(); g.fill(); g.restore();
}
function wedge(x1, y1, x2, y2, ax, ay) {
  g.save();
  g.fillStyle = 'rgba(0,0,0,0.2)';
  g.beginPath(); g.moveTo(x1 + 2, y1 + 2); g.lineTo(ax + 2, ay + 2); g.lineTo(x2 + 2, y2 + 2); g.closePath(); g.fill();
  g.fillStyle = '#fff'; g.strokeStyle = '#8c8c8c'; g.lineWidth = 1;
  g.beginPath(); g.moveTo(x1, y1); g.lineTo(ax, ay); g.lineTo(x2, y2); g.fill(); g.stroke();
  g.restore();
}

// callout pointers of the notes
wedge(355, 342, 355, 350, 94, 300);
wedge(515, 337, 515, 345, 752, 310);
wedge(210, 504, 226, 504, 172, 530);
wedge(360, 504, 374, 504, 389, 527);
wedge(718, 499, 734, 499, 765, 404);
wedge(708, 215, 724, 215, 755, 140);
wedge(700, 867, 720, 867, 776, 768);
wedge(350, 1086, 362, 1086, 326, 1220);
wedge(532, 1086, 544, 1086, 572, 1217);

// red ellipses
const RED = '#f01010';
ell(72.5, 122, 27.5, 63, RED, 2.5);
ell(761, 110, 34, 48.5, RED, 2.5);
ell(71.5, 632, 16.5, 36, RED, 2.5);
ell(761.5, 375, 28.5, 27, RED, 2.5);
ell(76, 810, 14, 19, RED, 2.5);
ell(768, 766, 21, 19, RED, 2.5);
ell(75.7, 1406, 30, 58, RED, 2.5);
ell(771, 1400, 37.6, 53, RED, 2.5);
// blue / green circles
const BLU = '#3b3bff';
ell(156.5, 553.5, 18, 18, BLU, 1.5);
ell(404, 545.4, 18, 18, BLU, 1.5);
ell(678.7, 456.5, 19, 19, BLU, 1.5);
ell(126, 803, 20, 18, BLU, 1.5);
ell(404, 841, 22, 21, BLU, 1.5);
ell(658.5, 786, 20, 19, BLU, 1.5);
ell(532, 864.6, 27, 25, '#22cc22', 2);
ell(72.8, 1069.3, 16, 14, '#9a70d8', 1, 'rgba(160,110,225,0.55)');
ell(762.6, 1168.3, 14, 10, '#9a70d8', 1, 'rgba(160,110,225,0.55)');

// blue dotted arrows
const BD = '#5050ff';
arr(119, 86, 217, 217, BD, 2, [3, 3], 11);
arr(402, 111, 440, 242, BD, 2, [3, 3], 11);
arr(654.5, 101, 707, 197, BD, 2, [3, 3], 11);
arr(182, 574, 234, 651.5, BD, 2, [3, 3], 13);
arr(434, 535, 456.5, 643, BD, 2, [3, 3], 11);
// green dashed arrows (RSI / price)
const GD = '#22dd22';
arr(76, 177, 91, 131, GD, 3, [5, 3], 10);
arr(773, 138, 795, 114, GD, 3, [4, 3], 10);
arr(65.6, 606, 126, 527, GD, 3, [6, 4], 11);
arr(777.7, 399, 820, 333, GD, 3, [6, 4], 12);

// ADX trend line and rally arrows
g.save(); g.strokeStyle = '#1414ff'; g.lineWidth = 2.5; g.setLineDash([8, 5]);
g.beginPath(); g.moveTo(48, 1068.3); g.lineTo(847, 1176.7); g.stroke(); g.restore();
const AG = [[62.2, 1168.3, 72.8, 1231.7], [88.7, 1233.3, 97.2, 1183.3], [111.5, 1183.3, 214.7, 1321.7],
            [225.3, 1326.7, 376.2, 1181.7], [381.5, 1186.7, 434.4, 1318.3], [445, 1331.7, 606.4, 1186.7],
            [611.7, 1190, 688.5, 1301.7], [691.1, 1301.7, 749.4, 1128.3], [762.6, 1130, 770.5, 1196.7],
            [773.2, 1213.3, 786.4, 1205]];
AG.forEach(p => arr(p[0], p[1], p[2], p[3], GD, 3.5, [8, 4], 12));
const AR = [[50.6, 1288.3, 66.5, 1330], [74.4, 1333.3, 79.7, 1248.3], [88.7, 1255, 111.5, 1326.7],
            [127.3, 1316.7, 212, 1171.7], [225.3, 1176.7, 376.2, 1308.3], [384.1, 1311.7, 437, 1130],
            [447.6, 1126.7, 614.4, 1316.7], [619.7, 1318.3, 688.5, 1230], [688.5, 1233.3, 749.4, 1310],
            [752, 1340, 754.7, 1286.7], [760, 1283.3, 791.7, 1316.7]];
AR.forEach(p => arr(p[0], p[1], p[2], p[3], '#ff1a1a', 3.5, [8, 4], 12));

// STO purple arrows
const PU = '#9b30ff';
arr(61.2, 1376.7, 72.8, 1450, PU, 2.5, [3, 3], 11);
arr(86.6, 1451.7, 98.2, 1390, PU, 2.5, [3, 3], 11);
arr(747, 1386, 757, 1432, PU, 2.5, [3, 3], 11);
arr(771, 1431, 782, 1377, PU, 2.5, [3, 3], 11);
</script>
</body>
</html>
